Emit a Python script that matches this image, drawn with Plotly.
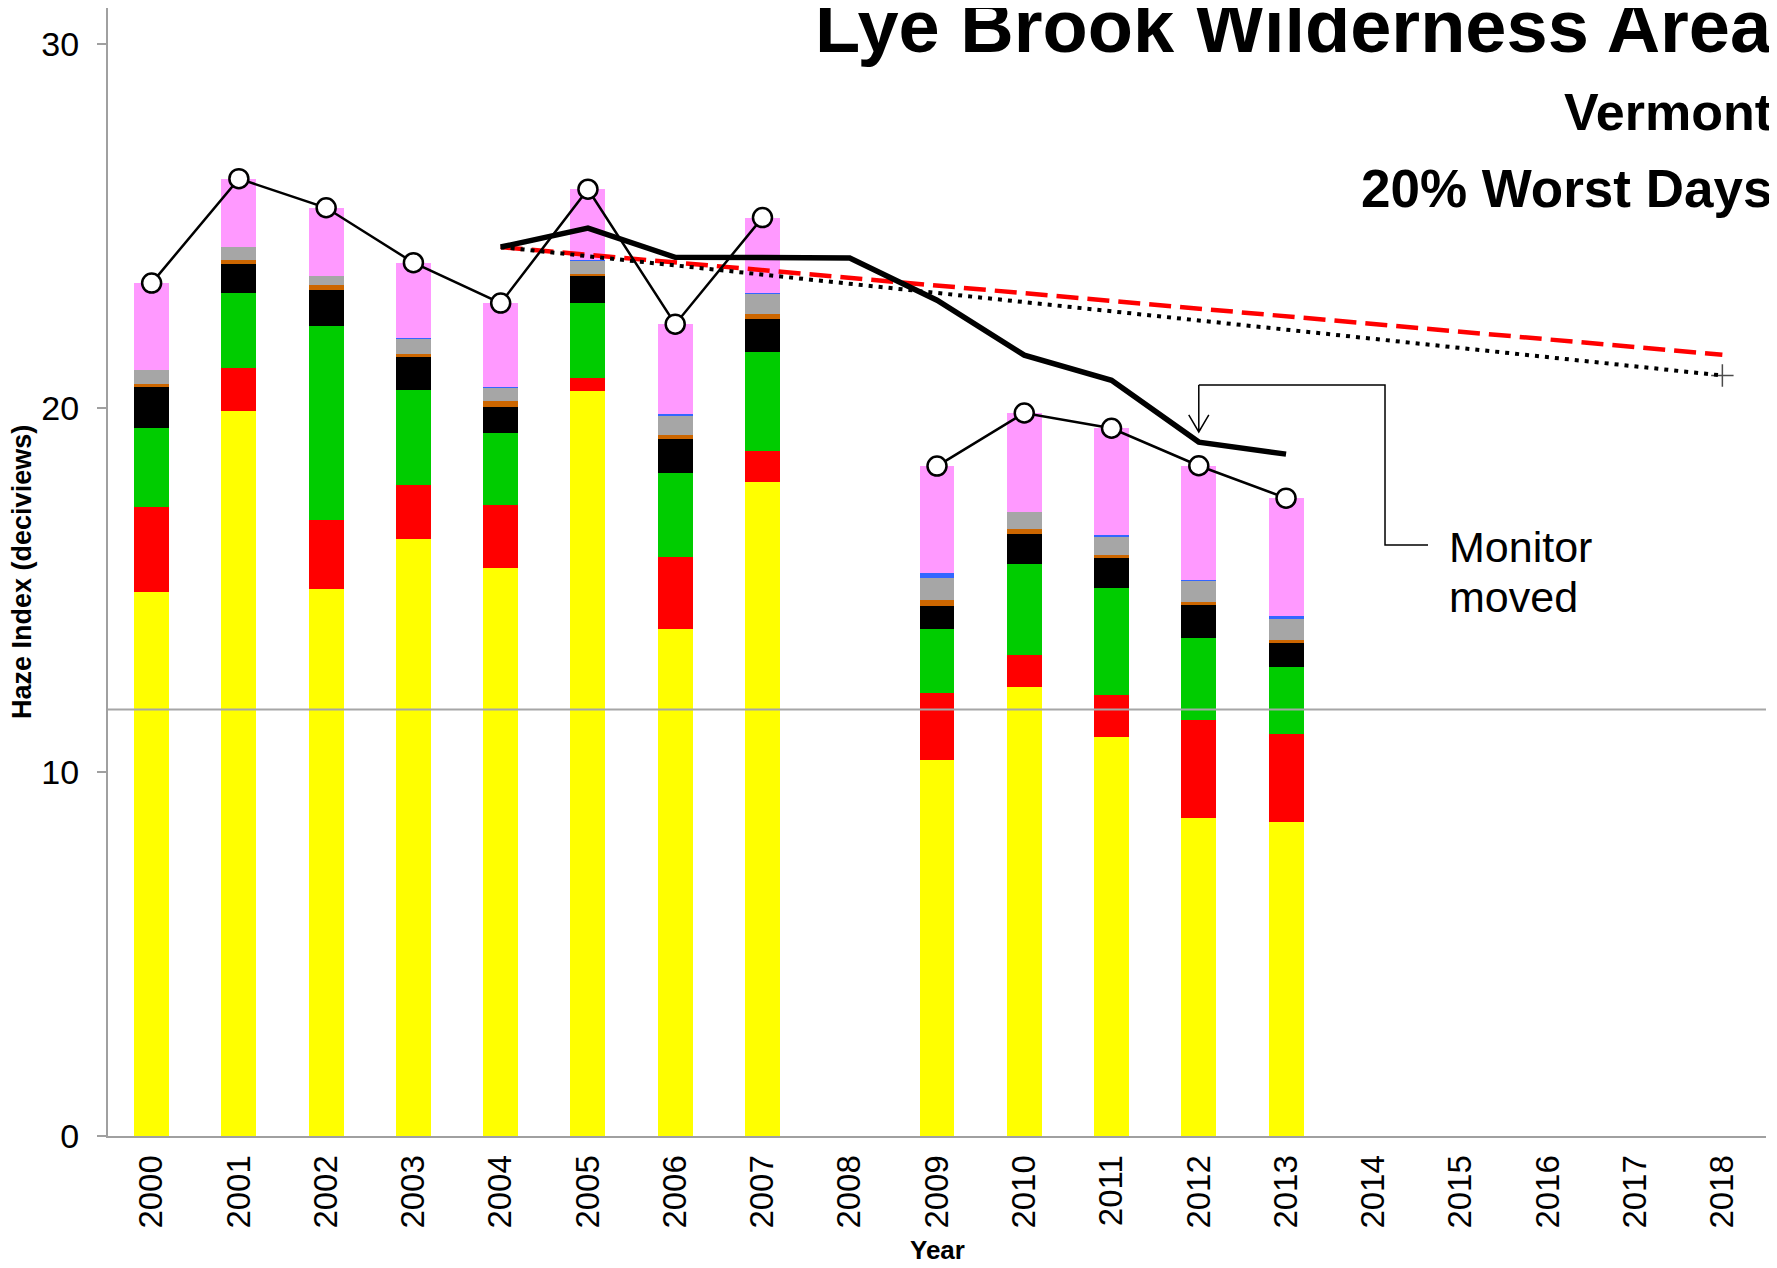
import plotly.graph_objects as go

# ---------------- data ----------------
YEARS = [2000, 2001, 2002, 2003, 2004, 2005, 2006, 2007, 2008, 2009, 2010, 2011, 2012, 2013]
SULFATE = [14.95, 19.92, 15.03, 16.42, 15.61, 20.47, 13.93, 17.98, None, 10.32, 12.34, 10.96, 8.73, 8.63]
NITRATE = [2.34, 1.19, 1.91, 1.46, 1.74, 0.35, 1.99, 0.84, None, 1.86, 0.87, 1.17, 2.70, 2.41]
ORGANIC = [2.18, 2.06, 5.33, 2.63, 1.98, 2.06, 2.30, 2.73, None, 1.75, 2.52, 2.93, 2.27, 1.84]
ELEM_CARBON = [1.12, 0.79, 0.97, 0.90, 0.71, 0.75, 0.94, 0.90, None, 0.64, 0.81, 0.83, 0.89, 0.66]
SOIL = [0.08, 0.11, 0.14, 0.09, 0.15, 0.07, 0.10, 0.13, None, 0.16, 0.14, 0.08, 0.09, 0.09]
COARSE = [0.37, 0.36, 0.25, 0.41, 0.37, 0.36, 0.53, 0.57, None, 0.60, 0.48, 0.51, 0.58, 0.58]
SEA_SALT = [0.0, 0.0, 0.0, 0.03, 0.03, 0.02, 0.04, 0.03, None, 0.14, 0.0, 0.04, 0.03, 0.07]
RAYLEIGH = [2.40, 1.88, 1.88, 2.06, 2.30, 1.94, 2.48, 2.06, None, 2.94, 2.71, 2.93, 3.13, 3.25]

HAZE_INDEX = [23.44, 26.31, 25.51, 24.00, 22.89, 26.02, 22.31, 25.24, None, 18.41, 19.87, 19.45, 18.42, 17.53]

AVG_YEARS = [2004, 2005, 2006, 2007, 2008, 2009, 2010, 2011, 2012, 2013]
AVG_VALUES = [24.43, 24.95, 24.15, 24.13, 24.13, 22.97, 21.46, 20.77, 19.07, 18.74]

GLIDE_YEARS = [2004, 2018]
GLIDE_VALUES = [24.43, 21.47]
TREND_YEARS = [2004, 2018]
TREND_VALUES = [24.43, 20.90]

NATURAL = 11.72

TICK_YEARS = list(range(2000, 2019))
TICK_LABELS = [str(y) for y in TICK_YEARS]
Y_TICKS = [0, 10, 20, 30]

FONT = "Liberation Sans, Arial, sans-serif"

# ---------------- figure ----------------
fig = go.Figure()

layers = [
    ("Sulfate", SULFATE, "#FFFF00"),
    ("Nitrate", NITRATE, "#FF0000"),
    ("Organic Carbon", ORGANIC, "#00CC00"),
    ("Elemental Carbon", ELEM_CARBON, "#000000"),
    ("Soil", SOIL, "#CC6600"),
    ("Coarse Mass", COARSE, "#A6A6A6"),
    ("Sea Salt", SEA_SALT, "#3366FF"),
    ("Rayleigh", RAYLEIGH, "#FF99FF"),
]
for name, vals, col in layers:
    fig.add_trace(go.Bar(x=YEARS, y=vals, name=name, width=0.4,
                         marker=dict(color=col, line=dict(width=0))))

fig.add_trace(go.Scatter(x=GLIDE_YEARS, y=GLIDE_VALUES, mode="lines",
                         line=dict(color="#FF0000", width=4.5, dash="22px,9px")))
fig.add_trace(go.Scatter(x=TREND_YEARS, y=TREND_VALUES, mode="lines+markers",
                         line=dict(color="#000000", width=4, dash="4px,6px"),
                         marker=dict(symbol="cross-thin", size=[0, 16],
                                     line=dict(color="#000000", width=1.5))))
fig.add_trace(go.Scatter(x=AVG_YEARS, y=AVG_VALUES, mode="lines",
                         line=dict(color="#000000", width=5.5)))
fig.add_trace(go.Scatter(x=YEARS, y=HAZE_INDEX, mode="lines+markers",
                         connectgaps=False,
                         line=dict(color="#000000", width=2.5),
                         marker=dict(symbol="circle", size=19, color="#FFFFFF",
                                     line=dict(color="#000000", width=2.5))))

fig.add_hline(y=NATURAL, line=dict(color="#A6A6A6", width=2), layer="above")

# Monitor moved bracket and arrow
fig.add_shape(type="path",
              path="M 2012,20.64 L 2014.134,20.64 L 2014.134,16.24 L 2014.627,16.24",
              xref="x", yref="y", line=dict(color="#000000", width=1.5))
fig.add_shape(type="path",
              path="M 2012,20.64 L 2012,19.35 M 2011.885,19.82 L 2012,19.35 L 2012.115,19.82",
              xref="x", yref="y", line=dict(color="#000000", width=1.5))

annotations = [
    dict(text="<b>Lye Brook Wilderness Area</b>", x=1.0048, y=0.9834, size=74),
    dict(text="<b>Vermont</b>", x=1.0048, y=0.9078, size=52),
    dict(text="<b>20% Worst Days</b>", x=1.0048, y=0.8399, size=53),
]
for a in annotations:
    fig.add_annotation(text=a["text"], xref="paper", yref="paper", x=a["x"], y=a["y"],
                       xanchor="right", yanchor="middle", showarrow=False,
                       font=dict(family=FONT, size=a["size"], color="#000000"))

fig.add_annotation(text="Monitor", xref="x", yref="y", x=2014.85, y=16.19,
                   xanchor="left", yanchor="middle", showarrow=False,
                   font=dict(family=FONT, size=43, color="#000000"))
fig.add_annotation(text="moved", xref="x", yref="y", x=2014.85, y=14.81,
                   xanchor="left", yanchor="middle", showarrow=False,
                   font=dict(family=FONT, size=43, color="#000000"))

fig.add_annotation(text="<b>Haze Index (deciviews)</b>", xref="paper", yref="paper",
                   x=-0.0519, y=0.5, textangle=-90, xanchor="center", yanchor="middle",
                   showarrow=False, font=dict(family=FONT, size=27, color="#000000"))
fig.add_annotation(text="<b>Year</b>", xref="paper", yref="paper",
                   x=0.5, y=-0.1015, xanchor="center", yanchor="middle",
                   showarrow=False, font=dict(family=FONT, size=26, color="#000000"))

# The page body has an 8px margin, so the figure is sized/offset to compensate.
fig.update_layout(
    width=1769, height=1260,
    margin=dict(l=100, r=11, t=0, b=132),
    barmode="stack",
    bargap=0,
    showlegend=False,
    plot_bgcolor="#FFFFFF",
    paper_bgcolor="#FFFFFF",
    font=dict(family=FONT, color="#000000"),
    xaxis=dict(range=[1999.5, 2018.5], tickmode="array", tickvals=TICK_YEARS,
               ticktext=TICK_LABELS, tickangle=-90, ticks="", showgrid=False,
               zeroline=False, showline=True, linecolor="#A0A0A0", linewidth=2,
               tickfont=dict(family=FONT, size=33, color="#000000"),
               ticklabelstandoff=4),
    yaxis=dict(range=[0, 31], tickmode="array", tickvals=Y_TICKS, ticks="outside",
               ticklen=9, tickwidth=1.5, tickcolor="#A0A0A0", showgrid=False,
               zeroline=False, showline=True, linecolor="#A0A0A0", linewidth=2,
               tickfont=dict(family=FONT, size=34, color="#000000"),
               ticklabelstandoff=11),
)

fig.write_html("out.html")
